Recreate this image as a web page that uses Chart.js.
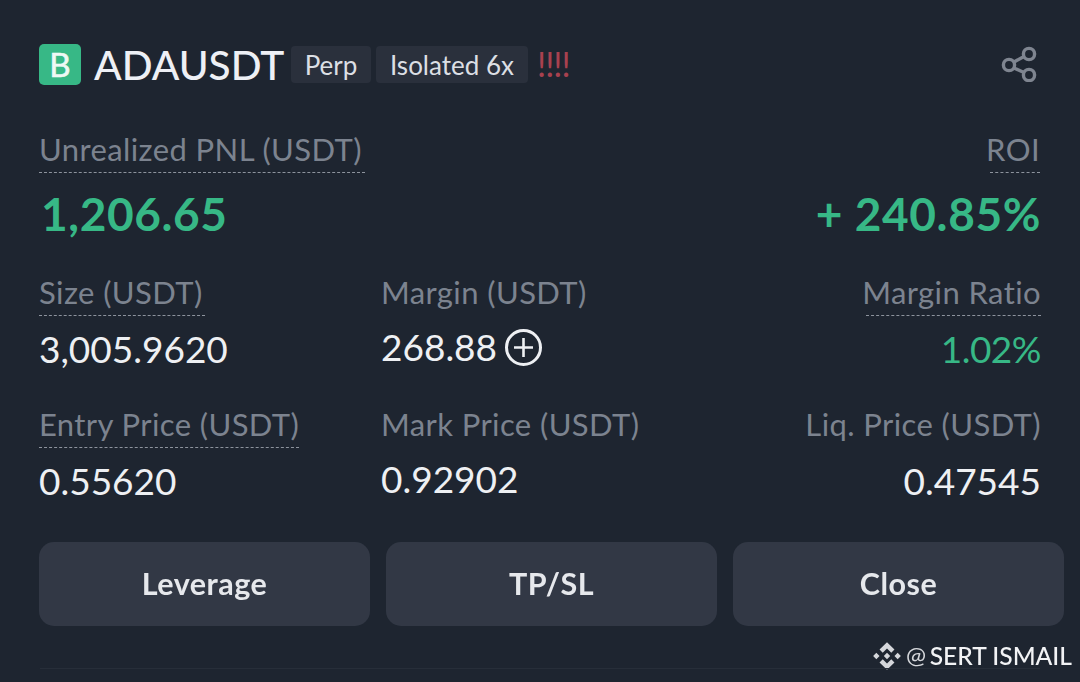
<!DOCTYPE html>
<html>
<head>
<meta charset="utf-8">
<script src="https://cdn.jsdelivr.net/npm/chart.js@4"></script>
<style>
  html, body { margin: 0; padding: 0; background: #1e2530; }
  #page { position: relative; width: 1080px; height: 682px; overflow: hidden; font-family: Lato, "Open Sans", sans-serif; }
  #page div, #page span { position: absolute; white-space: nowrap; }
  #buttons { position: absolute; left: 0; top: 530px; }
  .lbl { font-size: 31px; line-height: 36px; letter-spacing: .4px; color: #7c838f; }
  .val { font-size: 37px; line-height: 44px; color: #eef0f3; }
  .big { font-size: 46px; line-height: 50px; letter-spacing: .6px; font-weight: 700; color: #37b886; }
  .dot { border-bottom: 1px dashed #8d939d; height: 0; }
  .tag { background: #2a303c; border-radius: 4px; color: #dcdfe4; font-size: 26px; line-height: 39px; height: 37px; text-align: center; }
  .r { text-align: right; }
</style>
</head>
<body>
<div id="page">
  <canvas id="buttons" width="1080" height="110"></canvas>
  <svg style="position:absolute;left:1000px;top:46px" width="40" height="36" viewBox="0 0 40 36" fill="none" stroke="#7f8590" stroke-width="3.4">
    <circle cx="9" cy="19" r="5.6"/><circle cx="29" cy="8" r="5.6"/><circle cx="29" cy="29" r="5.6"/>
    <path d="M14 16 L24 10.5 M14 22 L24 26.5"/>
  </svg>
  <svg style="position:absolute;left:504px;top:328px" width="40" height="40" viewBox="0 0 40 40" fill="none" stroke="#eef0f3">
    <circle cx="19.5" cy="19.5" r="17" stroke-width="3"/><path d="M19.5 10 V29 M10 19.5 H29" stroke-width="2.6"/>
  </svg>
  <svg style="position:absolute;left:871px;top:640px" width="32" height="32" viewBox="0 0 30 30" fill="#d5d7db">
    <path d="M15 2 L22 9 L19 12 L15 8 L11 12 L8 9Z M15 28 L22 21 L19 18 L15 22 L11 18 L8 21Z M2 15 L5 12 L8 15 L5 18Z M28 15 L25 12 L22 15 L25 18Z M15 12 L18 15 L15 18 L12 15Z"/>
  </svg>
</div>
<script>
// header
var symbol = "ADAUSDT";
var sideBadge = "B";
var tags = ["Perp", "Isolated 6x"];
var warning = "!!!!";
// pnl / roi
var pnlLabel = "Unrealized PNL (USDT)";
var pnlValue = "1,206.65";
var roiLabel = "ROI";
var roiValue = "+ 240.85%";
// the grid below
var rowLabels = ["Size (USDT)", "Margin (USDT)", "Margin Ratio", "Entry Price (USDT)", "Mark Price (USDT)", "Liq. Price (USDT)"];
var rowValues = ["3,005.9620", "268.88", "1.02%", "0.55620", "0.92902", "0.47545"];
// buttons, drawn as bars
var buttonLabels = ["Leverage", "TP/SL", "Close"];
var buttonValues = [1, 1, 1];
var watermark = "SERT ISMAIL";

var page = document.getElementById('page');
function put(cls, text, css) {
    var d = document.createElement('div');
    d.className = cls;
    d.textContent = text;
    d.style.cssText = css;
    page.appendChild(d);
    return d;
}

put('', sideBadge, 'left:39px;top:44px;width:42px;height:41px;border-radius:5px;background:#37b886;color:#eef8f4;font-size:33px;line-height:41px;text-align:center;-webkit-text-stroke:.6px #eef8f4');
put('', symbol, 'left:94px;top:41px;font-size:40.6px;line-height:48px;font-weight:500;color:#eef0f5');
put('tag', tags[0], 'left:291px;top:46px;width:80px');
put('tag', tags[1], 'left:376px;top:46px;width:152px');
put('', warning, 'left:537px;top:44px;font-size:34px;line-height:40px;letter-spacing:-1px;color:#a8414f');

put('lbl', pnlLabel, 'left:39px;top:131px');
put('dot', '', 'left:39px;top:172px;width:326px');
put('big', pnlValue, 'left:41px;top:189px');
put('lbl r', roiLabel, 'right:40px;top:131px');
put('dot', '', 'left:990px;top:172px;width:50px');
put('big r', roiValue, 'right:39px;top:189px');

put('lbl', rowLabels[0], 'left:39px;top:274px');
put('dot', '', 'left:39px;top:315px;width:166px');
put('val', rowValues[0], 'left:39px;top:327px');
put('lbl', rowLabels[1], 'left:381px;top:274px');
put('val', rowValues[1], 'left:381px;top:325px');
put('lbl r', rowLabels[2], 'right:39px;top:274px');
put('dot', '', 'left:866px;top:315px;width:175px');
put('val r', rowValues[2], 'right:39px;top:327px;letter-spacing:-.5px;color:#37b886');

put('lbl', rowLabels[3], 'left:39px;top:406px');
put('dot', '', 'left:39px;top:447px;width:260px');
put('val', rowValues[3], 'left:39px;top:459px');
put('lbl', rowLabels[4], 'left:381px;top:406px');
put('val', rowValues[4], 'left:381px;top:457px');
put('lbl r', rowLabels[5], 'right:39px;top:406px');
put('val r', rowValues[5], 'right:39px;top:459px');

put('', '', 'left:40px;top:668px;width:1000px;height:1px;background:#272e39');
put('', '@', 'left:906px;top:639px;font-size:24px;line-height:32px;color:#d5d7db');
put('', watermark, 'right:8px;top:640px;font-size:24.6px;line-height:32px;font-weight:500;color:#f2f3f5');

var buttonText = {
    id: 'buttonText',
    afterDatasetsDraw: function (chart) {
        var ctx = chart.ctx;
        ctx.save();
        ctx.font = '700 30.5px Lato, sans-serif';
        ctx.letterSpacing = '0.5px';
        ctx.fillStyle = '#e6e8ec';
        ctx.textAlign = 'center';
        ctx.textBaseline = 'middle';
        chart.getDatasetMeta(0).data.forEach(function (bar, i) {
            ctx.fillText(buttonLabels[i], bar.x, (bar.y + bar.base) / 2 + 1);
        });
        ctx.restore();
    }
};

var ctx = document.getElementById('buttons').getContext('2d');
var myChart = new Chart(ctx, {
    type: 'bar',
    plugins: [buttonText],
    data: {
        labels: buttonLabels,
        datasets: [{
            data: buttonValues,
            backgroundColor: '#323845',
            borderRadius: 15,
            borderSkipped: false,
            categoryPercentage: 1,
            barPercentage: 331 / 347
        }]
    },
    options: {
        responsive: false,
        animation: false,
        layout: { padding: { left: 31, right: 8, top: 12, bottom: 14 } },
        plugins: { legend: { display: false }, tooltip: { enabled: false } },
        scales: {
            x: { display: false },
            y: { display: false, min: 0, max: 1 }
        }
    }
});
</script>
</body>
</html>
